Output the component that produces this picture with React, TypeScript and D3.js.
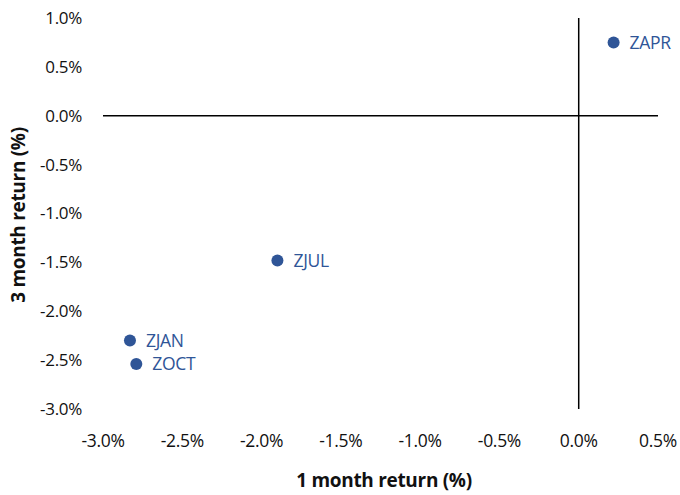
import { useEffect, useRef } from 'react'
import * as d3 from 'd3'

const names = ['ZAPR', 'ZJUL', 'ZJAN', 'ZOCT']
const oneMonth = [0.22, -1.9, -2.83, -2.79]
const threeMonth = [0.75, -1.48, -2.3, -2.54]
const xTicks = [-3.0, -2.5, -2.0, -1.5, -1.0, -0.5, 0.0, 0.5]
const yTicks = [1.0, 0.5, 0.0, -0.5, -1.0, -1.5, -2.0, -2.5, -3.0]

const W = 680
const H = 495
const FONT = '"Open Sans", "Noto Sans", sans-serif'
const DOT = '#2F5597'

export default function App() {
  const svgRef = useRef<SVGSVGElement>(null)

  useEffect(() => {
    const svg = d3.select(svgRef.current)
    svg.selectAll('*').remove()

    const x = d3.scaleLinear().domain([-3, 0.5]).range([103, 658])
    const y = d3.scaleLinear().domain([-3, 1]).range([409, 18])
    const fmt = (v: number) => `${v.toFixed(1)}%`

    // y tick labels
    svg.append('g').selectAll('text').data(yTicks).join('text')
      .attr('x', 82).attr('y', d => y(d)).attr('dy', '0.35em')
      .attr('text-anchor', 'end').attr('font-family', FONT).attr('font-size', 17)
      .attr('letter-spacing', -0.3).attr('fill', '#111').text(fmt)

    // x tick labels
    svg.append('g').selectAll('text').data(xTicks).join('text')
      .attr('x', d => x(d)).attr('y', 441).attr('dy', '0.35em')
      .attr('text-anchor', 'middle').attr('font-family', FONT).attr('font-size', 17.5)
      .attr('letter-spacing', -0.3).attr('fill', '#111').text(fmt)

    // zero lines
    svg.append('line')
      .attr('x1', x(-3)).attr('x2', x(0.5)).attr('y1', y(0)).attr('y2', y(0))
      .attr('stroke', '#000').attr('stroke-width', 1.5)
    svg.append('line')
      .attr('x1', x(0)).attr('x2', x(0)).attr('y1', y(1)).attr('y2', y(-3))
      .attr('stroke', '#000').attr('stroke-width', 1.5)

    const pts = names.map((n, i) => ({ n, a: oneMonth[i], b: threeMonth[i] }))

    svg.append('g').selectAll('circle').data(pts).join('circle')
      .attr('cx', d => x(d.a)).attr('cy', d => y(d.b)).attr('r', 6)
      .attr('fill', DOT)

    svg.append('g').selectAll('text').data(pts).join('text')
      .attr('x', d => x(d.a) + 16).attr('y', d => y(d.b)).attr('dy', '0.35em')
      .attr('font-family', FONT).attr('font-size', 17.5).attr('fill', DOT)
      .attr('letter-spacing', -0.3).text(d => d.n)

    // axis titles
    svg.append('text')
      .attr('x', 384).attr('y', 480).attr('dy', '0.35em').attr('text-anchor', 'middle')
      .attr('font-family', FONT).attr('font-size', 19).attr('font-weight', 'bold')
      .attr('letter-spacing', -0.3).attr('fill', '#111').text('1 month return (%)')
    svg.append('text')
      .attr('transform', 'translate(18,215) rotate(-90)').attr('dy', '0.35em')
      .attr('text-anchor', 'middle')
      .attr('font-family', FONT).attr('font-size', 19).attr('font-weight', 'bold')
      .attr('letter-spacing', -0.3).attr('fill', '#111').text('3 month return (%)')
  }, [])

  return (
    <svg ref={svgRef} width={W} height={H}
      style={{ position: 'absolute', left: 0, top: 0, display: 'block', background: '#fff' }} />
  )
}
